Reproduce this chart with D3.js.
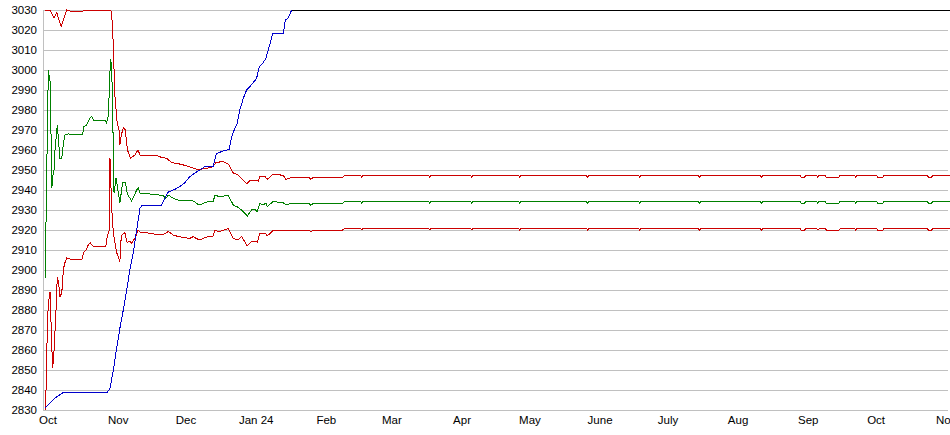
<!DOCTYPE html>
<html><head><meta charset="utf-8">
<script src="https://cdn.jsdelivr.net/npm/d3@7/dist/d3.min.js"></script>
<style>
body{margin:0;background:#fff}
svg{display:block}
text{font-family:"Liberation Sans",Arial,sans-serif;font-size:11.5px;fill:#000}
</style>
</head><body>
<svg id="chart" width="950" height="435"></svg>
<script>
// ---- data ----
// day offsets are days since 2023-10-01
const baseDate = "2023-10-01";
const domainDates = ["2023-09-29", "2024-11-02"];
const yDomain = [2830, 3030];
const yTicks = [2830,2840,2850,2860,2870,2880,2890,2900,2910,2920,2930,2940,2950,2960,2970,2980,2990,3000,3010,3020,3030];
const xTickDates = ["2023-10-01","2023-11-01","2023-12-01","2024-01-01","2024-02-01","2024-03-01","2024-04-01","2024-05-01","2024-06-01","2024-07-01","2024-08-01","2024-09-01","2024-10-01","2024-11-01"];
const xTickLabels = ["Oct","Nov","Dec","Jan 24","Feb","Mar","Apr","May","June","July","Aug","Sep","Oct","Nov"];

const redUpper = [[-1.1,3030],[1.1,3030],[2.9,3026],[4.1,3028.6],[6.0,3021.7],[8.5,3030],[9.9,3029.5],[15.8,3029.5],[16.6,3030],[28.0,3030],
 [28.6,3024],[29.1,3012],[29.4,3000],[29.8,2987],[30.6,2976],[30.8,2973.5],[31.6,2970],[32.0,2962.5],[32.6,2967.5],[33.5,2971],[34.4,2970],
 [35.3,2960],[36.7,2956],[38.6,2957.5],[40.0,2960],[40.9,2957.5],[47.5,2957.5],[50.4,2956.3],[52.7,2955.8],[54.9,2953.7],[59.3,2952.8],
 [63.7,2951.2],[66.5,2950.2],[70.3,2950.8],[73.2,2951.7],[74.4,2953.8],[77.7,2954.2],[79.9,2953],[82.1,2948.5],[84.3,2947.5],[85.0,2946.7],
 [88.1,2943],[89.4,2944.7],[91.7,2945],[93.1,2944.5],[93.9,2947],[96.1,2946.7],[97.1,2945.3],[99.8,2948],[104.2,2947.3],[105.3,2945.3],
 [107.9,2946.3],[115.6,2946.3],[116.4,2945.3],[117.4,2946.3],[130.4,2946.3],
 [131.4,2947.5],[138.3,2947.5],[138.9,2946.3],[139.5,2947.5],[168.4,2947.5],[169,2946.3],[169.6,2947.5],[186.9,2947.5],[187.5,2946.3],[188.1,2947.5],
 [208.1,2947.5],[208.7,2946.3],[209.3,2947.5],[238.1,2947.5],[238.7,2946.3],[239.3,2947.5],[261.1,2947.5],[261.7,2946.3],[262.3,2947.5],
 [287.6,2947.5],[288.2,2946.3],[288.8,2947.5],[315,2947.5],[315.6,2946.3],[316.2,2947.5],[332.5,2947.5],[333.1,2946.3],[334.6,2946.3],[335.2,2947.5],
 [339.9,2947.5],[340.5,2946.3],[341.1,2947.5],[343.6,2947.5],[344.2,2946.3],[349.8,2946.3],[350.4,2947.5],[356.6,2947.5],[357.2,2946.3],[357.8,2947.5],
 [366.3,2947.5],[366.9,2946.3],[369.2,2946.3],[369.8,2947.5],[388.8,2947.5],[389.4,2946.3],[390.7,2946.3],[391.3,2947.5],[400.5,2947.5]];

const green = [[-1.1,2896],[-0.8,2913.5],[-0.35,2948.5],[0.35,3000],[0.8,2996],[1.2,2994],[1.9,2941],[2.3,2946.7],[2.9,2950],[3.3,2960],
 [4.3,2972.5],[4.9,2964],[5.5,2956],[6.3,2956],[7.0,2963.3],[7.7,2967.5],[9.2,2968],[15.5,2967.5],[16.1,2971.7],[17.3,2972.5],[18.8,2976],
 [19.5,2976.7],[20.5,2974.7],[25.4,2974.7],[26.1,2973.5],[26.9,2977.5],[27.6,2999],[28.0,3005.5],[28.6,2991.7],[29.4,2938.5],[30.3,2946],
 [31.1,2940],[32.0,2933.5],[33.2,2944],[34.4,2944],[35.3,2938],[36.1,2936.5],[37.2,2934.5],[39.4,2940],[40.1,2941],[40.9,2938.5],[45.3,2938],
 [51.1,2937.3],[52.3,2935.8],[53.4,2937.5],[55.6,2935.8],[57.8,2935],[64.4,2934.5],[67.0,2932.5],[71.0,2934.2],[73.2,2934.3],[74.0,2937.3],
 [76.2,2936.7],[79.9,2937.3],[82.1,2932.5],[84.3,2931.3],[86.5,2929.2],[88.3,2927],[90.2,2930],[91.7,2930.3],[92.7,2929.2],[93.9,2933.3],
 [95.3,2932.5],[96.5,2933.5],[97.1,2931.7],[99.7,2934.2],[104.2,2933.7],[105.3,2932.5],[107.9,2933.3],[115.6,2933.3],[116.4,2932.3],[117.4,2933.3],[130.4,2933.3],
 [131.4,2934.5],[138.3,2934.5],[138.9,2933.3],[139.5,2934.5],[168.4,2934.5],[169,2933.3],[169.6,2934.5],[186.9,2934.5],[187.5,2933.3],[188.1,2934.5],
 [208.1,2934.5],[208.7,2933.3],[209.3,2934.5],[238.1,2934.5],[238.7,2933.3],[239.3,2934.5],[261.1,2934.5],[261.7,2933.3],[262.3,2934.5],
 [287.6,2934.5],[288.2,2933.3],[288.8,2934.5],[315,2934.5],[315.6,2933.3],[316.2,2934.5],[332.5,2934.5],[333.1,2933.3],[334.6,2933.3],[335.2,2934.5],
 [339.9,2934.5],[340.5,2933.3],[341.1,2934.5],[343.6,2934.5],[344.2,2933.3],[349.8,2933.3],[350.4,2934.5],[356.6,2934.5],[357.2,2933.3],[357.8,2934.5],
 [366.3,2934.5],[366.9,2933.3],[369.2,2933.3],[369.8,2934.5],[388.8,2934.5],[389.4,2933.3],[390.7,2933.3],[391.3,2934.5],[400.5,2934.5]];

const redLower = [[-1.1,2830],[-0.7,2838.5],[-0.35,2855],[-0.1,2871.7],[0.35,2882.5],[0.8,2886.7],[1.1,2889],[1.4,2879],[1.9,2861],[2.3,2851],
 [2.9,2860],[3.3,2869],[3.75,2880],[4.1,2890],[4.3,2896.7],[4.9,2893.5],[5.5,2886.7],[6.3,2888.5],[7.0,2900],[7.5,2903],[8.5,2906],[9.9,2905.5],
 [15.2,2905.5],[16.1,2909],[17.0,2910],[18.0,2912.5],[18.8,2913.7],[20.0,2912],[25.8,2912],[26.4,2916.7],[27.3,2920],[27.6,2956],[28.4,2930],
 [29.1,2918.5],[30.6,2908.5],[31.3,2906.7],[32.0,2904],[32.3,2913.5],[32.9,2917.5],[34.2,2918.7],[35.2,2913.5],[36.1,2914.5],[37.2,2913.5],
 [38.6,2915.8],[40.1,2920],[40.9,2919],[42.3,2919],[45.3,2918.3],[48.2,2917.8],[51.1,2917.8],[53.4,2919.2],[55.6,2917.5],[57.8,2916.7],
 [62.9,2915.8],[64.4,2916.7],[67.0,2915],[71.0,2916.7],[73.2,2917],[74.0,2919.7],[76.2,2919.3],[79.9,2920.8],[82.1,2915.8],[84.3,2915],
 [85.8,2916.7],[88.3,2912],[90.2,2914.2],[92.7,2914],[93.9,2918.3],[96.5,2918],[97.1,2917],[99.7,2919.7],[107.1,2919.7],[108.6,2920],
 [115.6,2920],[116.4,2919],[117.4,2920],[130.4,2920],
 [131.4,2920.8],[138.3,2920.8],[138.9,2920],[139.5,2920.8],[168.4,2920.8],[169,2920],[169.6,2920.8],[186.9,2920.8],[187.5,2920],[188.1,2920.8],
 [208.1,2920.8],[208.7,2920],[209.3,2920.8],[238.1,2920.8],[238.7,2920],[239.3,2920.8],[261.1,2920.8],[261.7,2920],[262.3,2920.8],
 [287.6,2920.8],[288.2,2920],[288.8,2920.8],[315,2920.8],[315.6,2920],[316.2,2920.8],[332.5,2920.8],[333.1,2920],[334.6,2920],[335.2,2920.8],
 [339.9,2920.8],[340.5,2920],[341.1,2920.8],[343.6,2920.8],[344.2,2920],[349.8,2920],[350.4,2920.8],[356.6,2920.8],[357.2,2920],[357.8,2920.8],
 [366.3,2920.8],[366.9,2920],[369.2,2920],[369.8,2920.8],[388.8,2920.8],[389.4,2920],[390.7,2920],[391.3,2920.8],[400.5,2920.8]];

const blue = [[-1.1,2831],[0.35,2832.5],[3.3,2836],[7.0,2838.8],[26.4,2838.8],[27.6,2840.8],[29.1,2850],[30.3,2859],[32.0,2871],[33.5,2880],
 [35.0,2890],[36.4,2900],[37.9,2908.5],[39.4,2920],[40.9,2931],[42.0,2932.5],[50.4,2932.5],[51.9,2936],[53.4,2939],[56.3,2940.3],[58.5,2941.7],
 [60.7,2943.7],[62.9,2946.7],[65.9,2949],[70.0,2952],[73.2,2952],[74.7,2958.3],[77.7,2959.5],[80.3,2960.3],[81.4,2966.7],[82.8,2970.8],
 [83.8,2973.3],[85.0,2980],[86.5,2985.8],[88.0,2990],[89.4,2991.7],[90.9,2993.7],[92.4,2995.8],[93.6,3001.7],[95.3,3003.7],[96.5,3005.8],
 [98.0,3011.7],[99.5,3018.3],[104.2,3018.3],[105.1,3025],[106.4,3026],[107.9,3030]];

const black = [[107.9,3030],[400.5,3030]];

const seriesList = [
  {name:"green", data: green, color:"#008000"},
  {name:"redLower", data: redLower, color:"#cc0000"},
  {name:"redUpper", data: redUpper, color:"#cc0000"},
  {name:"blue", data: blue, color:"#0000cc"},
  {name:"black", data: black, color:"#000000"}
];

// ---- chart ----
const parse = d3.timeParse("%Y-%m-%d");
const base = parse(baseDate);
const toDate = d => new Date(base.getTime() + d * 864e5);
const plotLeft = 43, plotRight = 948, plotTop = 10, plotBottom = 410;

const svg = d3.select("#chart");
const x = d3.scaleTime().domain(domainDates.map(parse)).range([plotLeft, plotRight]);
const y = d3.scaleLinear().domain(yDomain).range([plotBottom, plotTop]);

const yAxis = svg.append("g").attr("transform", `translate(${plotLeft},0)`)
  .call(d3.axisLeft(y).tickValues(yTicks).tickFormat(d3.format("d"))
    .tickSize(-(plotRight - plotLeft)).tickSizeOuter(0).tickPadding(6));
yAxis.selectAll(".tick line").attr("stroke", "#c0c0c0");
yAxis.select(".domain").attr("stroke", "#c0c0c0");
yAxis.selectAll("text").attr("fill", "#000").style("font-size", "11.5px")
  .style("font-family", '"Liberation Sans",Arial,sans-serif');

const xAxis = svg.append("g").attr("transform", `translate(0,${plotBottom})`)
  .call(d3.axisBottom(x).tickValues(xTickDates.map(parse))
    .tickFormat((d, i) => xTickLabels[i]).tickSize(0).tickPadding(6));
xAxis.select(".domain").remove();
xAxis.selectAll("text").attr("fill", "#000").style("font-size", "11.5px")
  .style("font-family", '"Liberation Sans",Arial,sans-serif');

const line = d3.line().x(p => x(toDate(p[0]))).y(p => y(p[1]));
svg.append("g").selectAll("path").data(seriesList).join("path")
  .attr("d", s => line(s.data))
  .attr("fill", "none")
  .attr("stroke", s => s.color)
  .attr("stroke-width", 1)
  .attr("shape-rendering", "crispEdges");
</script>
</body></html>
